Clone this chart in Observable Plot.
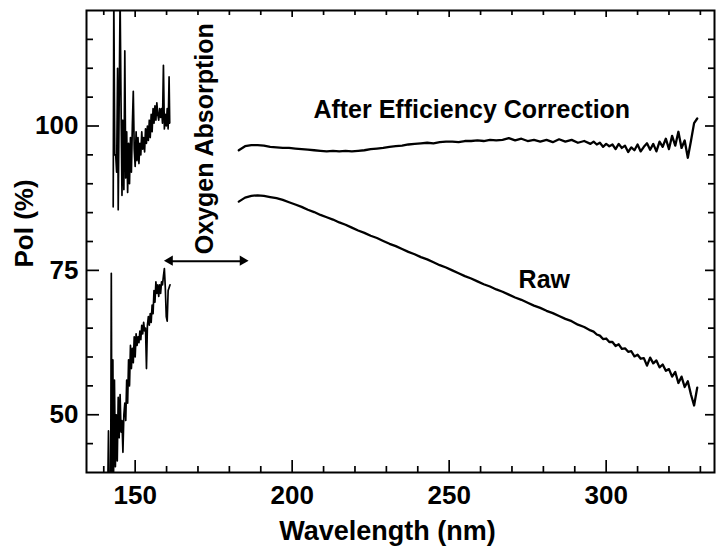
<!DOCTYPE html>
<html>
<head>
<meta charset="utf-8">
<script src="https://cdn.jsdelivr.net/npm/d3@7"></script>
<script src="https://cdn.jsdelivr.net/npm/@observablehq/plot@0.6"></script>
<style>
  body { margin: 0; background: #fff; }
  #chart svg { display: block; }
</style>
</head>
<body>
<div id="chart"></div>
<script>
// ---------- data ----------
// Corrected polarization, short-wavelength (noisy) segment
const corrLeftWl = [143.0,143.2,143.5,143.8,144.1,144.4,144.6,144.9,145.2,145.5,145.8,146.1,146.4,146.7,147.0,147.3,147.6,147.9,148.2,148.5,148.8,149.1,149.4,149.7,150.0,150.3,150.6,150.9,151.2,151.5,151.8,152.1,152.4,152.7,153.0,153.3,153.6,153.9,154.2,154.5,154.8,155.1,155.4,155.7,156.0,156.3,156.6,156.9,157.2,157.5,157.8,158.1,158.4,158.7,159.0,159.3,159.6,159.9,160.2,160.5,160.8,161.0];
const corrLeftPol = [86,122,95,95,92,110,85.5,104,122,104,88,101,89,113,91,99,88.5,97,90,98,92,100,106,96,93,99,94,98,93.5,97,95,99,96,98,95.5,99.5,97,100,97.5,101,98,102,99,103,100.5,103.5,101,104,102,101,103,101.5,103,100.5,110.5,99.5,102,100,103,99.5,108.5,100.5];

// Raw polarization, short-wavelength (noisy) segment
const rawLeftWl = [141.3,141.5,141.7,142.2,142.4,142.6,142.9,143.1,143.4,143.7,144.0,144.3,144.6,144.9,145.2,145.5,145.8,146.1,146.4,146.7,147.0,147.3,147.6,147.9,148.2,148.5,148.8,149.1,149.4,149.7,150.0,150.3,150.6,150.9,151.2,151.5,151.8,152.1,152.4,152.7,153.0,153.3,153.6,153.9,154.2,154.5,154.8,155.1,155.4,155.7,156.0,156.3,156.6,156.9,157.2,157.5,157.8,158.1,158.4,158.7,159.0,159.3,159.6,159.9,160.2,160.5,160.8,161.1];
const rawLeftPol = [38,47.2,38,38,74.5,38,59.5,38.5,56,41,50,42,53,46,53.5,47,49,43.5,50,52,49,56,52,59.5,55,62,58,61.5,59,63.5,60,64,62,63.5,62.5,64.5,63,65.5,64,66,64.5,65,58,65.5,67,65.5,67.5,66,69,67.5,71.5,69.5,73,71,72.5,70.5,72.5,71,73,72.5,74,75.3,72,67,66.2,71.5,72,72.5];

// Long-wavelength segment (shared wavelength grid)
const rightWl = [183,185,187,189,191,193,195,197,199,201,203,205,207,209,211,213,215,217,219,221,223,225,227,229,231,233,235,237,239,241,243,245,247,249,251,253,255,257,259,261,263,265,267,269,271,273,275,277,279,281,283,285,287,289,291,293,295,
  296,297,298,299,300,301,302,303,304,305,306,307,308,309,310,311,312,313,314,315,316,317,318,319,320,321,322,323,324,325,326,327,328,329];
const corrPol = [95.8,96.5,96.7,96.7,96.6,96.4,96.3,96.2,96.2,96.1,96.0,95.9,95.8,95.7,95.6,95.7,95.6,95.7,95.6,95.7,95.8,96.0,96.1,96.2,96.4,96.5,96.6,96.8,96.9,97.0,97.1,97.0,97.2,97.3,97.3,97.2,97.4,97.4,97.5,97.4,97.6,97.5,97.6,97.9,97.5,97.8,97.4,97.6,97.3,97.6,97.2,97.7,97.3,97.6,97.1,97.4,96.9,
  97.3,96.8,97.1,96.4,96.9,96.5,96.8,96.0,96.9,96.2,96.6,95.5,96.3,95.8,96.8,95.6,96.4,97.0,95.9,96.9,95.6,97.3,96.4,97.8,96.0,98.3,96.6,99.0,96.2,97.5,94.5,97.4,100.5,101.3];
const rawPol = [86.9,87.6,87.9,88.0,87.9,87.7,87.5,87.2,86.8,86.4,86.0,85.5,85.1,84.6,84.2,83.8,83.3,82.9,82.4,81.9,81.5,81.0,80.6,80.1,79.6,79.2,78.7,78.2,77.8,77.3,76.9,76.4,75.9,75.5,75.0,74.5,74.0,73.6,73.1,72.6,72.2,71.7,71.3,70.8,70.3,69.9,69.4,68.9,68.5,68.0,67.6,67.1,66.6,66.2,65.6,65.2,64.6,
  64.4,63.9,63.7,63.1,63.2,62.6,62.6,61.9,62.2,61.4,61.5,60.9,61.0,60.1,60.4,59.7,59.8,58.5,59.9,58.9,59.4,58.2,58.7,57.6,57.9,56.6,57.4,55.5,56.6,54.8,55.8,53.5,51.6,54.7];

// Axis domains and ticks
const xDomain = [134.5, 334.5];
const yDomain = [40, 120];
const xMajorTicks = [150, 200, 250, 300];
const xMinorTicks = [140, 160, 170, 180, 190, 210, 220, 230, 240, 260, 270, 280, 290, 310, 320, 330];
const yMajorTicks = [50, 75, 100];
const yMinorTicks = [45, 55, 60, 65, 70, 80, 85, 90, 95, 105, 110, 115];

// Annotations (in data units)
const curveLabels = ["After Efficiency Correction", "Raw"];
const curveLabelWl = [257.2, 280.3];
const curveLabelPol = [102.8, 73.4];
const bandLabel = ["Oxygen Absorption"];
const bandLabelWl = [172.3];
const bandLabelPol = [97.8];
const bandArrowWl = [161.2, 184.4];
const bandArrowPol = [76.6];

// ---------- layout ----------
const W = 716, H = 551, ML = 86, MR = 2, MT = 10, MB = 79;
const xPerPx = (xDomain[1] - xDomain[0]) / (W - ML - MR);
const yPerPx = (yDomain[1] - yDomain[0]) / (H - MT - MB);

// ---------- build tables ----------
const rows = (xs, ys) => xs.map((x, i) => ({x, y: ys[i]}));
const corrLeft = rows(corrLeftWl, corrLeftPol);
const rawLeft = rows(rawLeftWl, rawLeftPol);
const corrRight = rows(rightWl, corrPol);
const rawRight = rows(rightWl, rawPol);
const curveLabelRows = curveLabels.map((t, i) => ({t, x: curveLabelWl[i], y: curveLabelPol[i]}));
const bandLabelRows = bandLabel.map((t, i) => ({t, x: bandLabelWl[i], y: bandLabelPol[i]}));
const arrowLine = [{x1: bandArrowWl[0], x2: bandArrowWl[1], y: bandArrowPol[0]}];
const arrowHeads = [
  {x: bandArrowWl[0], y: bandArrowPol[0], rot: -90, dx: 5.8},
  {x: bandArrowWl[1], y: bandArrowPol[0], rot: 90, dx: -5.8}
];

const FONT = "Liberation Sans, Arial, Helvetica, sans-serif";
const TICK = {stroke: "black", strokeWidth: 1.7};

// inward tick marks as short rules from each frame edge (length given in pixels)
const bottomTicks = (data, px) => Plot.ruleX(data, {x: d => d, y1: yDomain[0], y2: yDomain[0] + px * yPerPx, ...TICK});
const topTicks = (data, px) => Plot.ruleX(data, {x: d => d, y1: yDomain[1] - px * yPerPx, y2: yDomain[1], ...TICK});
const leftTicks = (data, px) => Plot.ruleY(data, {y: d => d, x1: xDomain[0], x2: xDomain[0] + px * xPerPx, ...TICK});
const rightTicks = (data, px) => Plot.ruleY(data, {y: d => d, x1: xDomain[1] - px * xPerPx, x2: xDomain[1], ...TICK});

const chart = Plot.plot({
  width: W,
  height: H,
  marginLeft: ML,
  marginRight: MR,
  marginTop: MT,
  marginBottom: MB,
  style: {fontFamily: FONT, fontWeight: "bold"},
  x: {domain: xDomain, label: null},
  y: {domain: yDomain, label: null},
  marks: [
    Plot.frame({fill: "none", stroke: "black", strokeWidth: 2}),
    // tick labels
    Plot.axisX({anchor: "bottom", ticks: xMajorTicks, tickSize: 0, tickPadding: 13, fontSize: 26, label: null}),
    Plot.axisY({anchor: "left", ticks: yMajorTicks, tickSize: 0, tickPadding: 8, fontSize: 26, label: null}),
    // inward ticks on all four sides
    bottomTicks(xMajorTicks, 12),
    bottomTicks(xMinorTicks, 6),
    topTicks(xMajorTicks, 7),
    topTicks(xMinorTicks, 5),
    leftTicks(yMajorTicks, 13),
    leftTicks(yMinorTicks, 7),
    rightTicks(yMajorTicks, 9),
    rightTicks(yMinorTicks, 6),
    // curves
    Plot.line(corrLeft, {x: "x", y: "y", stroke: "black", strokeWidth: 1.7, clip: true}),
    Plot.line(rawLeft, {x: "x", y: "y", stroke: "black", strokeWidth: 1.7, clip: true}),
    Plot.line(corrRight, {x: "x", y: "y", stroke: "black", strokeWidth: 2.3, clip: true}),
    Plot.line(rawRight, {x: "x", y: "y", stroke: "black", strokeWidth: 2.3, clip: true}),
    // oxygen band arrow
    Plot.ruleY(arrowLine, {x1: "x1", x2: "x2", y: "y", stroke: "black", strokeWidth: 2}),
    Plot.dot(arrowHeads, {x: "x", y: "y", dx: "dx", symbol: "triangle", rotate: "rot", r: 3.8, fill: "black", stroke: null}),
    // annotations
    Plot.text(curveLabelRows, {x: "x", y: "y", text: "t", fontSize: 25, fontWeight: "bold", fontFamily: FONT, fill: "black"}),
    Plot.text(bandLabelRows, {x: "x", y: "y", text: "t", rotate: -90, fontSize: 25, fontWeight: "bold", fontFamily: FONT, fill: "black"}),
    // axis titles
    Plot.text(["Wavelength (nm)"], {frameAnchor: "bottom", text: d => d, lineAnchor: "top", dy: 48, dx: -13, fontSize: 27, fontWeight: "bold", fontFamily: FONT, fill: "black"}),
    Plot.text(["Pol (%)"], {frameAnchor: "left", text: d => d, rotate: -90, dx: -62, dy: 26, fontSize: 26, fontWeight: "bold", fontFamily: FONT, fill: "black"})
  ]
});

document.getElementById("chart").appendChild(chart);
</script>
</body>
</html>
